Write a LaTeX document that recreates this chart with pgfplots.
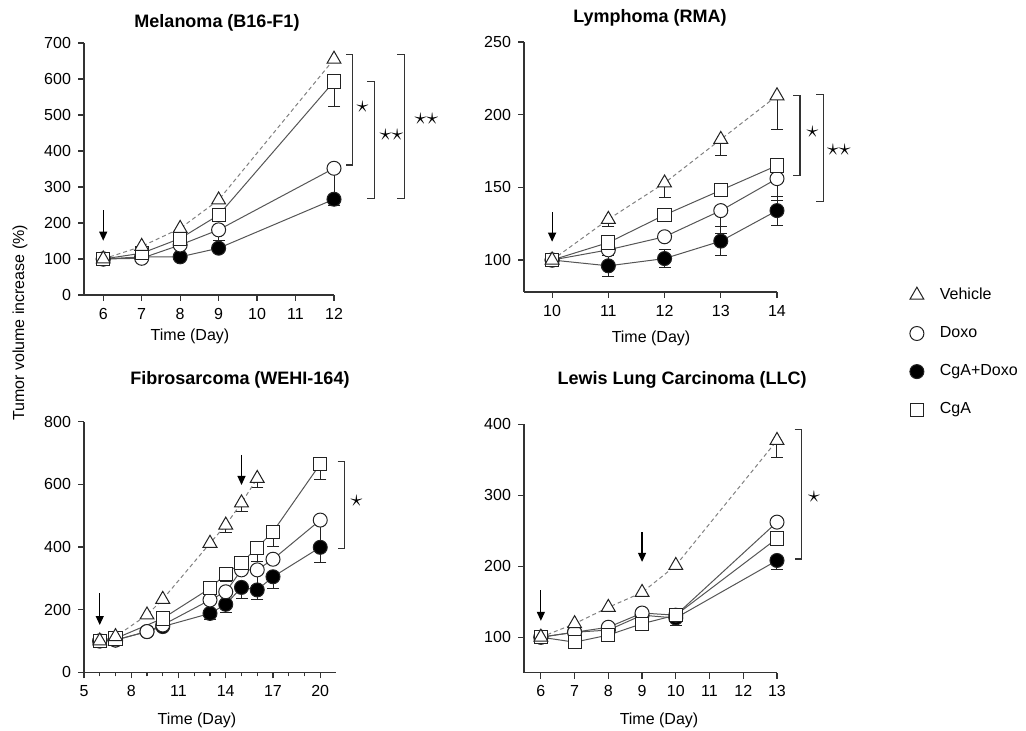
\documentclass[border=0pt]{standalone}
\usepackage{fontspec}
\setmainfont{Liberation Sans}
\usepackage{pgfplots}
\pgfplotsset{compat=1.18}
\usetikzlibrary{arrows.meta}

\definecolor{axcol}{HTML}{333333}
\definecolor{mkcol}{HTML}{222222}
\definecolor{lncol}{HTML}{555555}
\definecolor{vhcol}{HTML}{808080}

\newcommand{\tickfont}{\fontsize{8}{9}\selectfont}
\newcommand{\titlefont}{\fontsize{9}{11}\selectfont\bfseries}

\pgfplotsset{
  gp/.style={
    scale only axis, anchor=south west, clip=false,
    axis x line*=bottom, axis y line*=left,
    axis line style={line width=0.6pt, draw=axcol, -},
    tick style={line width=0.6pt, draw=axcol},
    tick align=outside, major tick length=3pt, minor tick length=2pt,
    tick label style={font=\tickfont},
    /pgf/number format/assume math mode=true,
    /pgf/number format/1000 sep={},
  },
  veh/.style={draw=vhcol, line width=0.5pt, dash pattern=on 2pt off 1.5pt,
    mark=triangle*, mark size=4pt, mark options={solid, draw=mkcol, fill=white}},
  dox/.style={draw=lncol, line width=0.5pt, mark=*, mark size=3.5pt,
    mark options={draw=mkcol, fill=white}},
  cgd/.style={draw=lncol, line width=0.5pt, mark=*, mark size=3.5pt,
    mark options={draw=mkcol, fill=black}},
  cga/.style={draw=lncol, line width=0.5pt, mark=square*, mark size=3.3pt,
    mark options={draw=mkcol, fill=white}},
  errb/.style={only marks, mark=none, forget plot,
    error bars/.cd, y dir=both, y explicit,
    error bar style={draw=mkcol, solid, line width=0.5pt},
    error mark options={rotate=90, mark size=3pt, draw=mkcol, line width=0.5pt}},
}
\tikzset{
  brk/.style={draw=axcol, line width=0.6pt},
  arr/.style={draw=black, line width=0.6pt, -{Triangle[width=4pt,length=4.5pt]}},
  star/.style={font=\fontsize{12}{12}\selectfont, inner sep=0pt},
}

\begin{document}
\begin{tikzpicture}
\useasboundingbox (0,0) rectangle (513pt,-365.5pt);

% Melanoma
\begin{axis}[gp, at={(42pt,-147.5pt)}, width=125pt, height=126pt,
  xmin=5.5, xmax=12, ymin=0, ymax=700,
  xtick={6,...,12}, ytick={0,100,...,700}]
\addplot[errb] coordinates {(9,181) -= (0,30) (12,593) -= (0,70) (12,352) -= (0,88) (12,266) -= (0,16)};
\addplot[cgd] coordinates {(6,100)(7,106)(8,106)(9,130)(12,266)};
\addplot[dox] coordinates {(6,100)(7,102)(8,139)(9,181)(12,352)};
\addplot[cga] coordinates {(6,100)(7,116)(8,157)(9,222)(12,593)};
\addplot[veh] coordinates {(6,100)(7,135)(8,185)(9,264)(12,655)};
\draw[brk] (axis cs:12.31,667) -- (axis cs:12.49,667) -- (axis cs:12.49,361) -- (axis cs:12.31,361);
\draw[brk] (axis cs:12.87,593) -- (axis cs:13.05,593) -- (axis cs:13.05,267) -- (axis cs:12.87,267);
\draw[brk] (axis cs:13.65,669) -- (axis cs:13.83,669) -- (axis cs:13.83,267) -- (axis cs:13.65,267);
\node[star] at (axis cs:12.74,523) {$\star$};
\node[star] at (axis cs:13.49,446) {$\star\star$};
\node[star] at (axis cs:14.4,488) {$\star\star$};
\draw[arr] (axis cs:6,236) -- (axis cs:6,151);
\end{axis}

% Lymphoma
\begin{axis}[gp, at={(262pt,-146pt)}, width=126.5pt, height=125pt,
  xmin=9.5, xmax=14, ymin=78, ymax=250,
  xtick={10,...,14}, ytick={100,150,200,250},
  legend style={at={(axis description cs:1.5,0.05)}, anchor=north west,
    draw=none, fill=none, font=\tickfont, row sep=8pt, cells={anchor=west},
    /tikz/every odd column/.append style={column sep=6pt}},
  legend cell align=left]
\addlegendimage{only marks, mark=triangle*, mark size=4pt, mark options={draw=mkcol, fill=white, line width=0.5pt}}
\addlegendentry{Vehicle}
\addlegendimage{only marks, mark=*, mark size=3.5pt, mark options={draw=mkcol, fill=white, line width=0.5pt}}
\addlegendentry{Doxo}
\addlegendimage{only marks, mark=*, mark size=3.5pt, mark options={draw=mkcol, fill=black, line width=0.5pt}}
\addlegendentry{CgA+Doxo}
\addlegendimage{only marks, mark=square*, mark size=3.3pt, mark options={draw=mkcol, fill=white, line width=0.5pt}}
\addlegendentry{CgA}
\addplot[errb] coordinates {(11,128) -= (0,5) (12,153) -= (0,10) (13,183) -= (0,11) (14,213) -= (0,23)
  (13,134) -= (0,16) (14,156) -= (0,15)
  (11,96) +- (0,7) (12,101) +- (0,6) (13,113) +- (0,10) (14,134) +- (0,10)};
\addplot[cgd, forget plot] coordinates {(10,100)(11,96)(12,101)(13,113)(14,134)};
\addplot[dox, forget plot] coordinates {(10,100)(11,107)(12,116)(13,134)(14,156)};
\addplot[cga, forget plot] coordinates {(10,100)(11,112)(12,131)(13,148)(14,165)};
\addplot[veh, forget plot] coordinates {(10,100)(11,128)(12,153)(13,183)(14,213)};
\draw[brk] (axis cs:14.285,213) -- (axis cs:14.41,213) -- (axis cs:14.41,158) -- (axis cs:14.285,158);
\draw[brk] (axis cs:14.695,214) -- (axis cs:14.82,214) -- (axis cs:14.82,140) -- (axis cs:14.695,140);
\node[star] at (axis cs:14.63,188) {$\star$};
\node[star] at (axis cs:15.1,176) {$\star\star$};
\draw[arr] (axis cs:10,133) -- (axis cs:10,112.6);
\end{axis}

% Fibrosarcoma
\begin{axis}[gp, at={(42pt,-336.15pt)}, width=126pt, height=125.3pt,
  xmin=5, xmax=21, ymin=0, ymax=800,
  xtick={5,8,...,20}, minor x tick num=2, ytick={0,200,...,800}]
\addplot[errb] coordinates {(14,470) -= (0,24) (15,541) -= (0,28) (16,619) -= (0,29)
  (20,665) -= (0,51) (17,449) -= (0,46) (16,398) -= (0,45) (14,314) -= (0,25)
  (20,486) -= (0,85) (16,327) -= (0,50)
  (13,188) -= (0,21) (14,217) -= (0,26) (15,271) -= (0,35) (16,263) -= (0,32) (17,305) -= (0,37) (20,399) -= (0,49)};
\addplot[cgd] coordinates {(6,100)(7,103)(9,130)(10,146)(13,188)(14,217)(15,271)(16,263)(17,305)(20,399)};
\addplot[dox] coordinates {(6,100)(7,103)(9,130)(10,151)(13,231)(14,257)(15,327)(16,327)(17,361)(20,486)};
\addplot[cga] coordinates {(6,100)(7,108)(10,172)(13,268)(14,314)(15,350)(16,398)(17,449)(20,665)};
\addplot[veh] coordinates {(6,100)(7,114)(9,183)(10,233)(13,412)(14,470)(15,541)(16,619)};
\draw[brk] (axis cs:21.11,672) -- (axis cs:21.55,672) -- (axis cs:21.55,396) -- (axis cs:21.11,396);
\node[star] at (axis cs:22.3,547) {$\star$};
\draw[arr] (axis cs:6,252) -- (axis cs:6,151);
\draw[arr] (axis cs:15,694) -- (axis cs:15,598);
\end{axis}

% Lewis Lung Carcinoma
\begin{axis}[gp, at={(262pt,-336.35pt)}, width=126.5pt, height=124.3pt,
  xmin=5.5, xmax=13, ymin=50, ymax=400,
  xtick={6,...,13}, ytick={100,200,300,400}]
\addplot[errb] coordinates {(13,377) -= (0,24) (13,208) -= (0,12) (10,127) -= (0,11)};
\addplot[cgd] coordinates {(6,100)(7,107)(8,110)(9,131)(10,127)(13,208)};
\addplot[dox] coordinates {(6,100)(7,107)(8,114)(9,134)(10,131)(13,262)};
\addplot[cga] coordinates {(6,100)(7,93)(8,103)(9,119)(10,131)(13,239)};
\addplot[veh] coordinates {(6,100)(7,119)(8,142)(9,163)(10,201)(13,377)};
\draw[brk] (axis cs:13.52,392) -- (axis cs:13.73,392) -- (axis cs:13.73,210) -- (axis cs:13.52,210);
\node[star] at (axis cs:14.1,297) {$\star$};
\draw[arr] (axis cs:6,166) -- (axis cs:6,123);
\draw[arr] (axis cs:9,248) -- (axis cs:9,206);
\end{axis}

% texts
\node[font=\titlefont] at (108.5pt,-11.5pt) {Melanoma (B16-F1)};
\node[font=\titlefont] at (325pt,-9pt) {Lymphoma (RMA)};
\node[font=\titlefont] at (120pt,-190pt) {Fibrosarcoma (WEHI-164)};
\node[font=\titlefont] at (341pt,-190pt) {Lewis Lung Carcinoma (LLC)};
\node[font=\tickfont] at (95pt,-168pt) {Time (Day)};
\node[font=\tickfont] at (325.5pt,-169pt) {Time (Day)};
\node[font=\tickfont] at (98.5pt,-360pt) {Time (Day)};
\node[font=\tickfont] at (329.5pt,-360pt) {Time (Day)};
\node[font=\tickfont, rotate=90] at (10pt,-161.5pt) {Tumor volume increase (\%)};
\end{tikzpicture}
\end{document}
